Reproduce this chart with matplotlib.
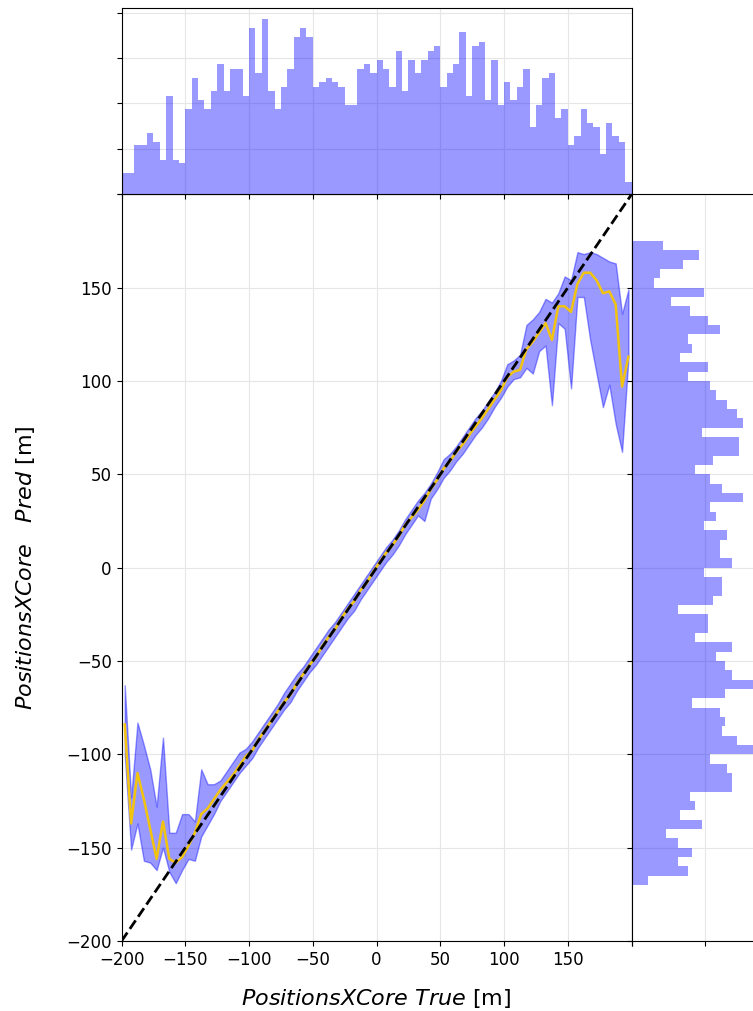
import numpy as np
import matplotlib
matplotlib.use("Agg")
import matplotlib.pyplot as plt

# bin centres of the true coordinate (5 m bins from -200 to 200)
edges_true = np.linspace(-200, 200, 81)
x_centres = edges_true[:-1] + 2.5

# mean prediction and spread per true bin
pred_mean = [-84, -137, -110, -124, -140, -156, -136, -156, -158, -155,
             -149, -142, -132, -129, -124, -119, -115, -111, -106, -101,
             -98, -92, -87, -82, -77, -72, -68, -62, -57, -52,
             -48, -42, -37, -33, -27, -22, -18, -12, -8, -2,
             3, 8, 12, 17, 23, 27, 31, 36, 42, 47,
             53, 57, 62, 66, 71, 75.5, 80, 85, 90, 95,
             102, 105, 106, 117, 121, 126, 131, 122, 140, 140,
             137, 152, 158, 158, 154, 147, 148, 141, 97, 113]
pred_hi = [-63, -123, -83, -95, -108, -128, -91, -142, -142, -132,
           -132, -136, -108, -116, -116, -114, -109, -104, -99, -97,
           -93, -88, -83, -78, -73, -67, -62, -57, -53, -48,
           -43, -38, -33, -29, -24, -19, -14, -9, -4, 1,
           6, 11, 15, 20, 26, 31, 36, 40, 45, 51,
           58, 61, 65, 70, 75, 80, 84, 89, 94, 100,
           109, 111, 114, 130, 133, 137, 144, 142, 147, 156,
           154, 169, 168, 169, 168, 166, 164, 163, 136, 149]
pred_lo = [-100, -151, -137, -157, -158, -162, -150, -163, -169, -162,
           -156, -157, -144, -138, -132, -125, -120, -115, -110, -106,
           -102, -96, -91, -86, -81, -76, -72, -66, -61, -56,
           -52, -47, -42, -37, -32, -27, -23, -17, -12, -7,
           -2, 3, 7, 12, 18, 23, 28, 25, 37, 42,
           48, 52, 57, 61, 66, 71, 75, 80, 86, 91,
           97, 101, 102, 107, 104, 116, 119, 87, 131, 128,
           96, 145, 145, 122, 104, 86, 98, 77, 62, 112]

# counts of the true coordinate
true_counts = [24, 24, 54, 54, 68, 58, 38, 108, 38, 34,
               94, 128, 104, 94, 114, 143, 114, 138, 138, 108,
               183, 133, 193, 114, 94, 118, 138, 173, 183, 173,
               118, 124, 128, 124, 118, 98, 98, 138, 143, 133,
               148, 138, 118, 158, 114, 148, 133, 148, 158, 163,
               118, 133, 143, 179, 108, 163, 168, 104, 148, 98,
               124, 104, 118, 138, 74, 98, 128, 133, 84, 94,
               54, 64, 94, 78, 74, 44, 78, 64, 58, 14]

# counts of the predicted coordinate, bins from -175 to 190
edges_pred = np.linspace(-175, 190, 74)
pred_counts = [2, 22, 76, 63, 82, 63, 47, 95, 66, 86,
               79, 136, 136, 130, 107, 165, 143, 123, 127, 120,
               82, 127, 165, 136, 127, 114, 136, 86, 104, 104,
               63, 111, 123, 123, 99, 136, 120, 120, 130, 99,
               114, 107, 152, 123, 107, 86, 111, 146, 146, 95,
               152, 143, 130, 114, 107, 76, 104, 66, 82, 76,
               120, 104, 79, 54, 99, 31, 38, 70, 91, 43,
               2, 0, 2]

ticks = np.arange(-200, 201, 50)
tick_labels = [str(t).replace("-", "\u2212") for t in ticks[:-1]] + [""]

fig = plt.figure(figsize=(7.53, 10.11), dpi=100)
ax = fig.add_axes([0.1614, 0.0692, 0.6774, 0.7386])
ax_top = fig.add_axes([0.1614, 0.8078, 0.6774, 0.1843], sharex=ax)
ax_right = fig.add_axes([0.8388, 0.0692, 0.2, 0.7386], sharey=ax)

# main panel
ax.fill_between(x_centres, pred_lo, pred_hi, facecolor="blue", edgecolor="blue",
                alpha=0.4, lw=1, zorder=2)
ax.plot(x_centres, pred_mean, color="#f2c40f", lw=1.8, zorder=3)
ax.plot([-200, 200], [-200, 200], "k--", lw=2, zorder=4)
ax.set_xlim(-200, 200)
ax.set_ylim(-200, 200)
ax.set_xticks(ticks)
ax.set_xticklabels(tick_labels)
ax.set_yticks(ticks)
ax.set_yticklabels(tick_labels)
ax.tick_params(labelsize=12)
ax.grid(True, color="#e6e6e6", lw=0.8)
ax.set_axisbelow(True)
ax.set_xlabel(r"$\it{PositionsXCore\ True}$ [m]", fontsize=16)
ax.set_ylabel(r"$\it{PositionsXCore\ \ \ Pred}$ [m]", fontsize=16)
ax.xaxis.set_label_coords(0.5, -0.061)
ax.yaxis.set_label_coords(-0.165, 0.5)

# marginal histograms
ax_top.hist(x_centres, bins=edges_true, weights=true_counts, histtype="stepfilled",
            color="blue", alpha=0.4, lw=0)
ax_top.set_ylim(0, 205)
ax_top.set_yticks([0, 50, 100, 150, 200])
ax_top.tick_params(labelbottom=False, labelleft=False)
ax_top.grid(True, color="#e6e6e6", lw=0.8)
ax_top.set_axisbelow(True)

pred_centres = edges_pred[:-1] + 2.5
ax_right.hist(pred_centres, bins=edges_pred, weights=pred_counts, histtype="stepfilled",
              orientation="horizontal", color="blue", alpha=0.4, lw=0)
ax_right.set_xlim(0, 204.6)
ax_right.set_xticks([0, 100, 200])
ax_right.tick_params(labelbottom=False, labelleft=False)
ax_right.grid(True, color="#e6e6e6", lw=0.8)
ax_right.set_axisbelow(True)

fig.savefig("out.png", dpi=100)
